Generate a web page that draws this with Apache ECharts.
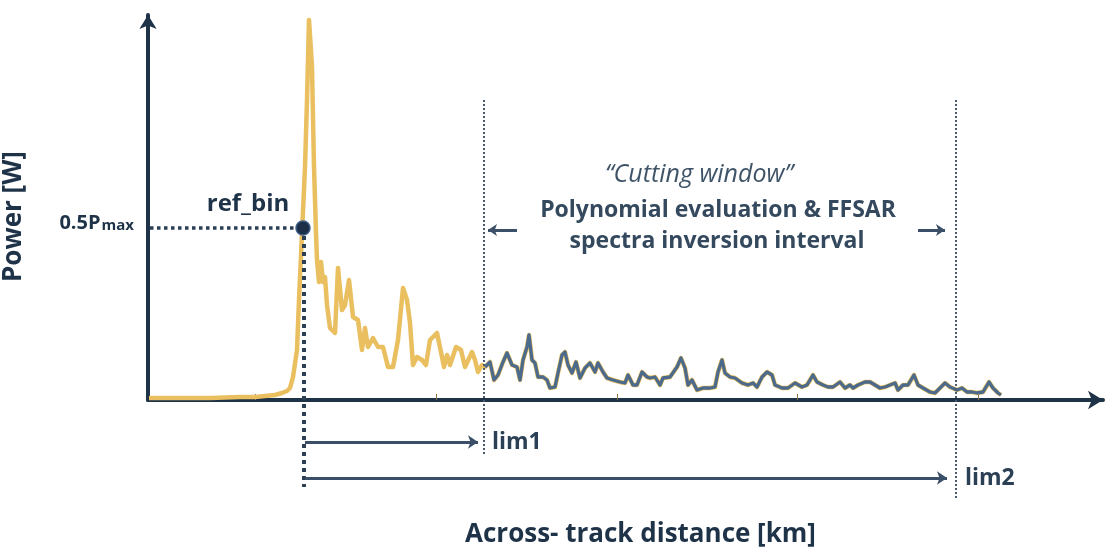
<!DOCTYPE html>
<html><head><meta charset="utf-8">
<script src="https://cdn.jsdelivr.net/npm/echarts@6/dist/echarts.min.js"></script>
<style>html,body{margin:0;padding:0;background:#fff}#c{width:1112px;height:553px}</style>
</head><body><div id="c"></div>
<script>
// Across-track distance (arbitrary units) and received power (arbitrary units)
const distance = [1,32,62,92,107,117,127,134,139,142,145,149,151,154,157,159,161,163,164,166,168,169,171,173,175,177,179,182,187,190,194,197,201,205,210,214,217,220,225,230,235,240,245,250,255,259,262,265,269,274,278,282,289,294,296,299,302,308,313,317,324,327,330,334,337,342,346,350,355,359,364,369,372,375,379,381,384,387,390,395,399,402,407,410,414,417,420,424,428,432,437,442,447,450,455,459,465,472,477,480,485,489,494,499,502,507,512,515,522,529,533,537,540,544,549,555,562,567,570,574,577,582,587,594,600,605,609,614,619,624,627,634,640,647,649,654,659,665,669,675,680,685,692,697,702,705,710,717,722,727,732,737,742,747,750,755,760,766,770,775,782,787,792,797,802,809,814,819,824,829,835,841,845,850,853];
const power = [2,2,2,3,3,4,5,7,9,12,23,50,100,167,233,300,380,380,333,233,167,140,118,138,118,123,95,72,67,132,90,95,120,83,80,50,72,53,62,53,53,33,33,60,112,100,77,35,43,40,35,60,67,43,33,45,35,53,50,33,48,40,28,35,33,38,20,25,38,47,35,33,20,40,53,65,40,37,23,23,20,12,13,27,45,48,35,27,38,22,32,37,28,37,28,22,20,18,17,25,15,15,28,23,22,23,15,22,23,33,42,32,15,20,10,12,12,13,28,40,27,23,22,17,15,17,13,23,28,25,15,12,12,17,18,13,15,25,18,15,13,13,18,12,15,12,15,18,18,15,12,13,15,17,10,15,15,25,15,12,8,7,12,17,13,10,12,8,8,7,8,18,12,7,5];
const xTicks = [107, 288, 469, 649, 830];
const refBinX = 155;
const halfPmax = 172;
const lim1X = 336;
const lim2X = 808;
const limNames = ['lim1', 'lim2'];
const yTickLabel = ['0.5P', 'max'];

const gold = '#E9BF60';
const blue = '#4C6A8B';
const navy = '#1E3248';
const ink = '#2B3F55';

const goldData = distance.map((d, i) => [d, power[i]]);
const blueData = goldData.filter(p => p[0] >= lim1X);

const chart = echarts.init(document.getElementById('c'), null, {renderer: 'canvas'});
const font = '"Open Sans"';
chart.setOption({
  animation: false,
  textStyle: {fontFamily: font},
  grid: {left: 148, right: 9, top: 15, bottom: 153, outerBoundsMode: 'none', containLabel: false},
  xAxis: {
    type: 'value', min: 0, max: 955,
    name: 'Across- track distance [km]', nameLocation: 'middle', nameGap: 122,
    nameTextStyle: {fontSize: 26, fontWeight: 'bold', color: navy, fontFamily: font, padding: [0, 0, 0, 30]},
    axisLine: {show: true, symbol: ['none', 'arrow'], symbolSize: [14, 15], lineStyle: {color: navy, width: 4}},
    axisTick: {show: true, inside: true, length: 6, customValues: xTicks, lineStyle: {color: '#8a7546', width: 1}},
    axisLabel: {show: false},
    splitLine: {show: false}
  },
  yAxis: {
    type: 'value', min: 0, max: 385,
    name: 'Power [W]', nameLocation: 'middle', nameGap: 121, nameRotate: 90,
    nameTextStyle: {fontSize: 26, fontWeight: 'bold', color: navy, fontFamily: font, padding: [0, 18, 0, 0]},
    axisLine: {show: true, symbol: ['none', 'arrow'], symbolSize: [13, 14], lineStyle: {color: navy, width: 4}},
    axisTick: {show: false},
    axisLabel: {
      show: true, customValues: [halfPmax], margin: 14,
      formatter: () => '{a|' + yTickLabel[0] + '}{b|' + yTickLabel[1] + '}',
      rich: {
        a: {fontSize: 20, fontWeight: 'bold', color: navy, fontFamily: font, lineHeight: 20, verticalAlign: 'top'},
        b: {fontSize: 15, fontWeight: 'bold', color: navy, fontFamily: font, lineHeight: 15, padding: [10, 0, 0, 1], verticalAlign: 'bottom'}
      },
      padding: [0, 0, 10, 0]
    },
    splitLine: {show: false}
  },
  graphic: [
    {type: 'text', style: {text: '\u201CCutting window\u201D', x: 699, y: 175, align: 'center', verticalAlign: 'middle', font: 'italic 25px ' + font, fill: '#3F5468'}},
    {type: 'text', style: {text: 'Polynomial evaluation & FFSAR', x: 718, y: 210, align: 'center', verticalAlign: 'middle', font: 'bold 23px ' + font, fill: '#34495E'}},
    {type: 'text', style: {text: 'spectra inversion interval', x: 717, y: 241, align: 'center', verticalAlign: 'middle', font: 'bold 23px ' + font, fill: '#34495E'}}
  ],
  series: [
    {
      type: 'line', data: goldData, showSymbol: false, z: 2, clip: false,
      lineStyle: {color: gold, width: 4.5, join: 'round'}
    },
    {
      type: 'line', data: blueData, showSymbol: false, z: 3, clip: false,
      lineStyle: {color: blue, width: 3.3, join: 'round'}
    },
    {
      type: 'lines', coordinateSystem: 'cartesian2d', clip: false, z: 4,
      symbol: 'none', silent: true,
      lineStyle: {opacity: 1, curveness: 0},
      data: [
        {coords: [[lim1X, 300], [lim1X, -55]], lineStyle: {width: 2, type: [2, 2], color: '#4A5B6D', opacity: 1}},
        {coords: [[lim2X, 300], [lim2X, -100]], lineStyle: {width: 2, type: [2, 2], color: '#4A5B6D', opacity: 1}},
        {coords: [[refBinX + 1, halfPmax], [refBinX + 1, -87]], lineStyle: {width: 4, type: [4, 4], color: ink, opacity: 1}},
        {coords: [[2, halfPmax], [refBinX - 6, halfPmax]], lineStyle: {width: 3.5, type: [3.5, 3.5], color: ink, opacity: 1}}
      ]
    },
    {
      type: 'lines', coordinateSystem: 'cartesian2d', clip: false, z: 4,
      symbol: ['none', 'arrow'], symbolSize: [13, 10], silent: true,
      lineStyle: {color: '#3B5068', width: 3, opacity: 1},
      label: {show: true, position: 'end', formatter: '{b}', fontSize: 23, fontWeight: 'bold', color: ink, fontFamily: font},
      data: [
        {name: limNames[0], coords: [[refBinX + 2, -42], [lim1X - 6, -42]], label: {distance: 14}},
        {name: limNames[1], coords: [[refBinX + 2, -78], [lim2X - 9, -78]], label: {distance: 18}}
      ]
    },
    {
      type: 'lines', coordinateSystem: 'cartesian2d', clip: false, z: 4,
      symbol: ['none', 'arrow'], symbolSize: [10, 9], silent: true,
      lineStyle: {color: '#3B5068', width: 3, opacity: 1},
      label: {show: false},
      data: [
        {coords: [[lim1X + 33, 170], [lim1X + 4, 170]]},
        {coords: [[lim2X - 38, 170], [lim2X - 11, 170]]}
      ]
    },
    {
      type: 'scatter', z: 6, clip: false, symbolSize: 14,
      itemStyle: {color: '#1D2F46', borderColor: '#3C5C86', borderWidth: 1.5, opacity: 1},
      label: {show: true, position: 'left', distance: 6, offset: [0, -24], formatter: 'ref_bin', fontSize: 24, fontWeight: 'bold', color: navy, fontFamily: font},
      data: [[refBinX, halfPmax]]
    }
  ]
});
</script>
</body></html>
